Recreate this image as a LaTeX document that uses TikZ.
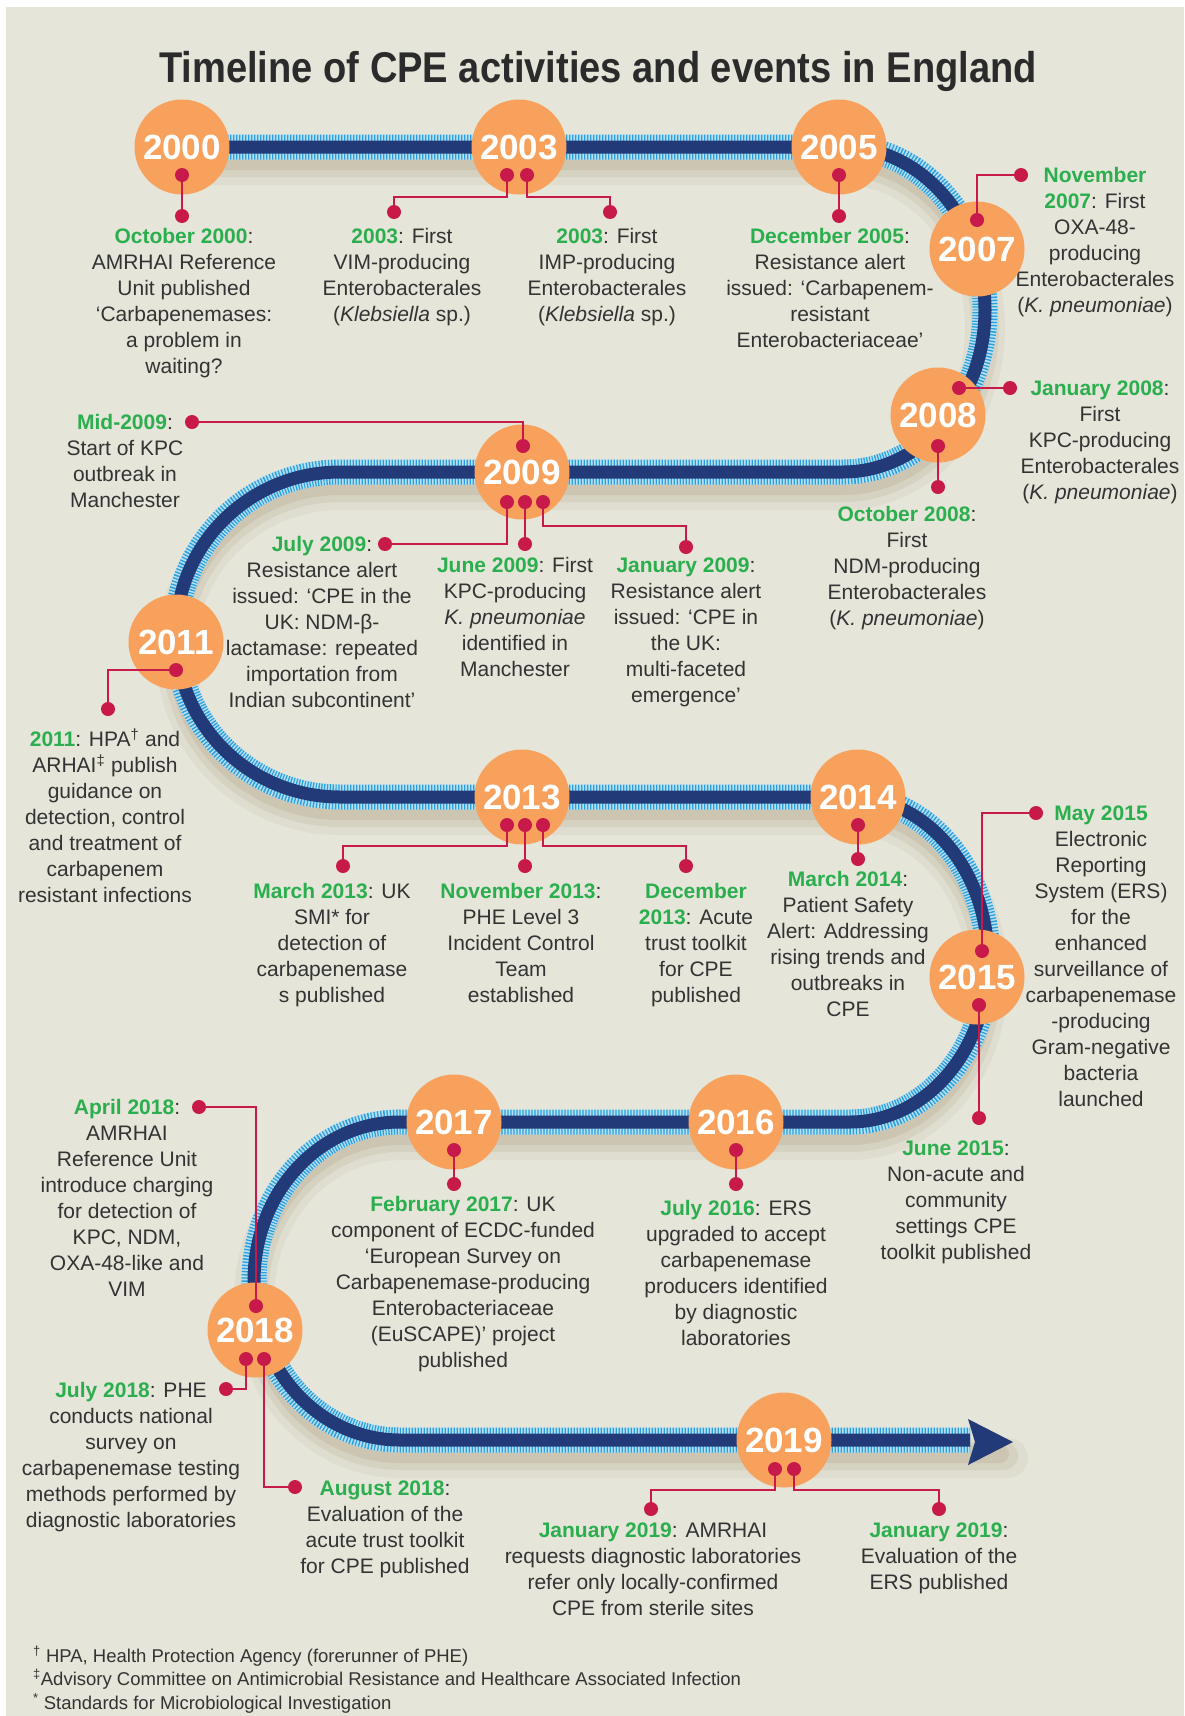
\documentclass[tikz,border=0pt]{standalone}
\usepackage{fontspec}
\setmainfont{Liberation Sans}
\definecolor{bg}{HTML}{E5E5D9}
\definecolor{orng}{HTML}{F7A15C}
\definecolor{navy}{HTML}{233A78}
\definecolor{hblue}{HTML}{2A9FDB}
\definecolor{hpale}{HTML}{B9E0F2}
\definecolor{crim}{HTML}{C8194B}
\definecolor{grn}{HTML}{2BAE4E}
\definecolor{txt}{HTML}{333333}
\definecolor{ttl}{HTML}{2B2B2B}
\definecolor{shad}{HTML}{9C8460}
\newcommand\dt[1]{\textcolor{grn}{\bfseries #1}}
\begin{document}
\begin{tikzpicture}[x=1pt,y=1pt,
  yr/.style={circle,fill=orng,minimum size=95,inner sep=0,text=white,font=\fontsize{35}{35}\selectfont\bfseries},
  dotc/.style={circle,fill=crim,minimum size=14,inner sep=0},
  conn/.style={draw=crim,line width=2},
  lbl/.style={anchor=north,align=center,inner sep=0,text=txt,font=\fontsize{21}{26}\selectfont,execute at begin node=\strut,yshift=-3.5},
  fn/.style={anchor=base west,inner sep=0,text=txt,font=\fontsize{18.5}{23}\selectfont},
  shA/.style={draw=shad,line width=40,opacity=0.08,yshift=-18,line cap=round},
  shB/.style={draw=shad,line width=28,opacity=0.12,yshift=-16,line cap=round},
  shC/.style={draw=shad,line width=18,opacity=0.16,yshift=-14,line cap=round},
  hbase/.style={draw=hpale,line width=25},
  hatch/.style={draw=hblue,line width=25,dash pattern=on 1.3pt off 1.7pt},
  navyl/.style={draw=navy,line width=13},
]
\useasboundingbox (0,0) rectangle (1184,-1716);
\fill[white] (0,0) rectangle (1184,-1716);
\fill[bg] (6,-7) rectangle (1184,-1716);

% title
\node[anchor=base,inner sep=0,text=ttl,font=\fontsize{43}{43}\selectfont\bfseries] (title) at (598,-82)
  {\scalebox{0.886}[1]{Timeline of CPE activities and events in England}};

% track
\foreach \st/\xe in {shA/1008,shB/1004,shC/1000,hbase/970,hatch/970,navyl/970}{
  \draw[\st] (182,-147) -- (843,-147)
    .. controls (921,-147) and (985,-220) .. (985,-310)
    .. controls (985,-400) and (921,-472) .. (843,-472)
    -- (340,-472)
    .. controls (249,-472) and (176,-545) .. (176,-634.5)
    .. controls (176,-724) and (249,-797) .. (340,-797)
    -- (850,-797)
    .. controls (926,-797) and (988,-870) .. (988,-960)
    .. controls (988,-1050) and (926,-1122) .. (850,-1122)
    -- (400,-1122)
    .. controls (319,-1122) and (254,-1193) .. (254,-1281)
    .. controls (254,-1369) and (319,-1440) .. (400,-1440)
    -- (\xe,-1440);
}
\fill[navy] (968,-1419) -- (1013,-1442) -- (968,-1465) -- (975,-1442) -- cycle;

% labels (drawn under the circles)
\node[lbl] (l00) at (184,-225) {\dt{October 2000}:\\AMRHAI Reference\\Unit published\\‘Carbapenemases:\\a problem in\\waiting?};
\node[lbl] (l03a) at (402,-225) {\dt{2003}: First\\VIM-producing\\Enterobacterales\\(\textit{Klebsiella} sp.)};
\node[lbl] (l03b) at (607,-225) {\dt{2003}: First\\IMP-producing\\Enterobacterales\\(\textit{Klebsiella} sp.)};
\node[lbl] (l05) at (830,-225) {\dt{December 2005}:\\Resistance alert\\issued: ‘Carbapenem-\\resistant\\Enterobacteriaceae’};
\node[lbl] (l07) at (1095,-164) {\dt{November}\\\dt{2007}: First\\OXA-48-\\producing\\Enterobacterales\\(\textit{K. pneumoniae})};
\node[lbl] (l08a) at (1100,-377) {\dt{January 2008}:\\First\\KPC-producing\\Enterobacterales\\(\textit{K. pneumoniae})};
\node[lbl] (l08b) at (907,-503) {\dt{October 2008}:\\First\\NDM-producing\\Enterobacterales\\(\textit{K. pneumoniae})};
\node[lbl] (l09m) at (125,-411) {\dt{Mid-2009}:\\Start of KPC\\outbreak in\\Manchester};
\node[lbl] (l09a) at (322,-533) {\dt{July 2009}:\\Resistance alert\\issued: ‘CPE in the\\UK: NDM-β-\\lactamase: repeated\\importation from\\Indian subcontinent’};
\node[lbl] (l09b) at (515,-554) {\dt{June 2009}: First\\KPC-producing\\\textit{K. pneumoniae}\\identified in\\Manchester};
\node[lbl] (l09c) at (686,-554) {\dt{January 2009}:\\Resistance alert\\issued: ‘CPE in\\the UK:\\multi-faceted\\emergence’};
\node[lbl] (l11) at (105,-725) {\dt{2011}: HPA\textsuperscript{†} and\\ARHAI\textsuperscript{‡} publish\\guidance on\\detection, control\\and treatment of\\carbapenem\\resistant infections};
\node[lbl] (l13a) at (332,-880) {\dt{March 2013}: UK\\SMI* for\\detection of\\carbapenemase\\s published};
\node[lbl] (l13b) at (521,-880) {\dt{November 2013}:\\PHE Level 3\\Incident Control\\Team\\established};
\node[lbl] (l13c) at (696,-880) {\dt{December}\\\dt{2013}: Acute\\trust toolkit\\for CPE\\published};
\node[lbl] (l14) at (848,-868) {\dt{March 2014}:\\Patient Safety\\Alert: Addressing\\rising trends and\\outbreaks in\\CPE};
\node[lbl] (l15a) at (1101,-802) {\dt{May 2015}\\Electronic\\Reporting\\System (ERS)\\for the\\enhanced\\surveillance of\\carbapenemase\\-producing\\Gram-negative\\bacteria\\launched};
\node[lbl] (l15b) at (956,-1137) {\dt{June 2015}:\\Non-acute and\\community\\settings CPE\\toolkit published};
\node[lbl] (l16) at (736,-1197) {\dt{July 2016}: ERS\\upgraded to accept\\carbapenemase\\producers identified\\by diagnostic\\laboratories};
\node[lbl] (l17) at (463,-1193) {\dt{February 2017}: UK\\component of ECDC-funded\\‘European Survey on\\Carbapenemase-producing\\Enterobacteriaceae\\(EuSCAPE)’ project\\published};
\node[lbl] (l18a) at (127,-1096) {\dt{April 2018}:\\AMRHAI\\Reference Unit\\introduce charging\\for detection of\\KPC, NDM,\\OXA-48-like and\\VIM};
\node[lbl] (l18b) at (131,-1379) {\dt{July 2018}: PHE\\conducts national\\survey on\\carbapenemase testing\\methods performed by\\diagnostic laboratories};
\node[lbl] (l18c) at (385,-1477) {\dt{August 2018}:\\Evaluation of the\\acute trust toolkit\\for CPE published};
\node[lbl] (l19a) at (653,-1519) {\dt{January 2019}: AMRHAI\\requests diagnostic laboratories\\refer only locally-confirmed\\CPE from sterile sites};
\node[lbl] (l19b) at (939,-1519) {\dt{January 2019}:\\Evaluation of the\\ERS published};

% year circles
\node[yr] (y00) at (182,-147) {2000};
\node[yr] (y03) at (519,-147) {2003};
\node[yr] (y05) at (839,-147) {2005};
\node[yr] (y07) at (977,-249) {2007};
\node[yr] (y08) at (938,-415) {2008};
\node[yr] (y09) at (522,-472) {2009};
\node[yr] (y11) at (176,-642) {2011};
\node[yr] (y13) at (522,-797) {2013};
\node[yr] (y14) at (858,-797) {2014};
\node[yr] (y15) at (977,-977) {2015};
\node[yr] (y16) at (736,-1122) {2016};
\node[yr] (y17) at (454,-1122) {2017};
\node[yr] (y18) at (255,-1330) {2018};
\node[yr] (y19) at (784,-1440) {2019};

% dots
\foreach \n/\x/\y in {d00/182/175, e00/182/216,
  d03a/507/175, e03a/394/212, d03b/527/175, e03b/610/212,
  d05/839/175, e05/839/216,
  d07/977/220, e07/1021/175,
  d08a/959/388, e08a/1010/388, d08b/938/446, e08b/938/487,
  d09u/523/446, e09u/192/422,
  d09a/507/502, e09a/385/544, d09b/525/502, e09b/525/544, d09c/543/502, e09c/686/547,
  d11/176/670, e11/108/709,
  d13a/507/825, e13a/343/866, d13b/525/825, e13b/525/866, d13c/543/825, e13c/686/866,
  d14/858/825, e14/858/859,
  d15a/982/951, e15a/1036/813, d15b/979/1005, e15b/979/1118,
  d16/736/1150, e16/736/1184,
  d17/454/1150, e17/454/1184,
  d18u/256/1306, e18u/199/1107,
  d18a/246/1359, e18a/226/1389, d18b/264/1359, e18b/295/1487,
  d19a/775/1469, e19a/651/1509, d19b/794/1469, e19b/939/1509}
  {\node[dotc] (\n) at (\x,-\y) {};}

% connectors
\draw[conn] (d00.center) -- (e00.center);
\draw[conn] (d03a.center) -- ++(0,-22) -| (e03a.center);
\draw[conn] (d03b.center) -- ++(0,-22) -| (e03b.center);
\draw[conn] (d05.center) -- (e05.center);
\draw[conn] (d07.center) |- (e07.center);
\draw[conn] (d08a.center) -- (e08a.center);
\draw[conn] (d08b.center) -- (e08b.center);
\draw[conn] (d09u.center) |- (e09u.center);
\draw[conn] (d09a.center) |- (e09a.center);
\draw[conn] (d09b.center) -- (e09b.center);
\draw[conn] (d09c.center) -- ++(0,-24) -| (e09c.center);
\draw[conn] (d11.center) -| (e11.center);
\draw[conn] (d13a.center) -- ++(0,-21) -| (e13a.center);
\draw[conn] (d13b.center) -- (e13b.center);
\draw[conn] (d13c.center) -- ++(0,-21) -| (e13c.center);
\draw[conn] (d14.center) -- (e14.center);
\draw[conn] (d15a.center) |- (e15a.center);
\draw[conn] (d15b.center) -- (e15b.center);
\draw[conn] (d16.center) -- (e16.center);
\draw[conn] (d17.center) -- (e17.center);
\draw[conn] (d18u.center) |- (e18u.center);
\draw[conn] (d18a.center) |- (e18a.center);
\draw[conn] (d18b.center) |- (e18b.center);
\draw[conn] (d19a.center) -- ++(0,-21) -| (e19a.center);
\draw[conn] (d19b.center) -- ++(0,-21) -| (e19b.center);

% footnotes
\node[fn] (fn1) at (33,-1662) {\textsuperscript{†} HPA, Health Protection Agency (forerunner of PHE)};
\node[fn] (fn2) at (33,-1685) {\textsuperscript{‡}Advisory Committee on Antimicrobial Resistance and Healthcare Associated Infection};
\node[fn] (fn3) at (33,-1709) {\textsuperscript{*} Standards for Microbiological Investigation};
\end{tikzpicture}
\end{document}
